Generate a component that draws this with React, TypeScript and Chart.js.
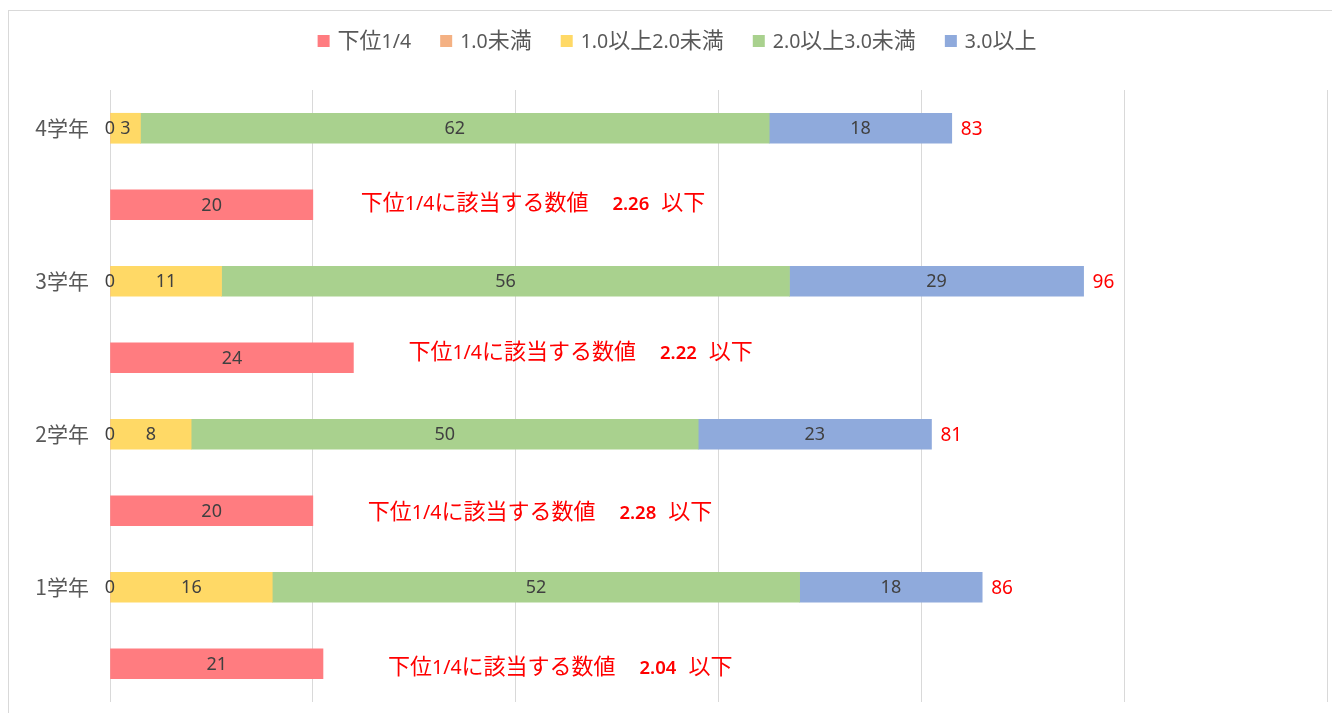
import React, { useEffect, useRef } from 'react';
import { Chart, registerables } from 'chart.js';

Chart.register(...registerables);

// ---- data ----
const categories = ['4学年', '', '3学年', '', '2学年', '', '1学年', ''];
const seriesNames = ['下位1/4', '1.0未満', '1.0以上2.0未満', '2.0以上3.0未満', '3.0以上'];
const lowerQuarter = [null, 20, null, 24, null, 20, null, 21];
const under1 = [0, null, 0, null, 0, null, 0, null];
const from1to2 = [3, null, 11, null, 8, null, 16, null];
const from2to3 = [62, null, 56, null, 50, null, 52, null];
const over3 = [18, null, 29, null, 23, null, 18, null];
const thresholds = ['2.26', '2.22', '2.28', '2.04'];
const xMin = 0;
const xMax = 120;
const xStep = 20;

// ---- styles ----
const COLORS = ['#FF7C80', '#F4B183', '#FFD966', '#A9D18E', '#8FAADC'];
const ANN_DX = [48, 55, 55, 65];
const ANN_DY = [-3, -7, 0, 2];
const CJK = "'Noto Sans CJK JP'";
const LAT = "'Noto Sans', 'Noto Sans CJK JP'";

const isCJK = (c: string) => /[\u3040-\u30ff\u3400-\u9fff\uff00-\uffef]/.test(c);

function runs(text: string) {
  const out: { t: string; cjk: boolean }[] = [];
  for (const ch of text) {
    const c = isCJK(ch);
    if (out.length && out[out.length - 1].cjk === c) out[out.length - 1].t += ch;
    else out.push({ t: ch, cjk: c });
  }
  return out;
}

function measureMixed(ctx: CanvasRenderingContext2D, text: string, cjkFont: string, latFont: string) {
  let w = 0;
  for (const r of runs(text)) {
    ctx.font = r.cjk ? cjkFont : latFont;
    w += ctx.measureText(r.t).width;
  }
  return w;
}

// draws text with a shared alphabetic baseline; y is the visual centre line
function drawMixed(ctx: CanvasRenderingContext2D, text: string, x: number, y: number, cjkFont: string, latFont: string, baseOff: number) {
  let cx = x;
  ctx.textAlign = 'left';
  ctx.textBaseline = 'alphabetic';
  for (const r of runs(text)) {
    ctx.font = r.cjk ? cjkFont : latFont;
    ctx.fillText(r.t, cx, y + baseOff);
    cx += ctx.measureText(r.t).width;
  }
  return cx - x;
}

const framePlugin = {
  id: 'frame',
  beforeDraw(chart: any) {
    const ctx = chart.ctx as CanvasRenderingContext2D;
    ctx.save();
    ctx.fillStyle = '#FFFFFF';
    ctx.fillRect(0, 0, chart.width, chart.height);
    ctx.strokeStyle = '#D9D9D9';
    ctx.lineWidth = 1;
    ctx.strokeRect(8.5, 10.5, 2000, 2000);
    ctx.restore();
  },
};

const labelPlugin = {
  id: 'valueLabels',
  afterDatasetsDraw(chart: any) {
    const ctx = chart.ctx as CanvasRenderingContext2D;
    const xs = chart.scales.x;
    const ys = chart.scales.y;
    ctx.save();
    // values inside bars
    ctx.font = `18px ${LAT}`;
    ctx.fillStyle = '#404040';
    ctx.textAlign = 'center';
    ctx.textBaseline = 'middle';
    chart.data.datasets.forEach((ds: any, di: number) => {
      const meta = chart.getDatasetMeta(di);
      meta.data.forEach((el: any, i: number) => {
        const v = ds.data[i];
        if (v == null) return;
        const p = el.getProps(['x', 'y', 'base'], true);
        ctx.fillText(String(v), (p.x + p.base) / 2, p.y + 1);
      });
    });
    // totals and annotations
    let k = 0;
    categories.forEach((_, i) => {
      const y = ys.getPixelForValue(i);
      if (i % 2 === 0) {
        const total = [under1, from1to2, from2to3, over3].reduce((s, a) => s + (a[i] || 0), 0);
        ctx.font = `19px ${LAT}`;
        ctx.fillStyle = '#FF0000';
        ctx.textAlign = 'left';
        ctx.textBaseline = 'middle';
        ctx.fillText(String(total), xs.getPixelForValue(total) + 9, y + 1);
      } else {
        ctx.fillStyle = '#FF0000';
        let x = xs.getPixelForValue(lowerQuarter[i] as number) + ANN_DX[k];
        const yy = y + ANN_DY[k];
        const cj = `22px ${CJK}`;
        x += drawMixed(ctx, '下位1/4に該当する数値', x, yy, cj, `19.5px ${LAT}`, 8);
        x += 24;
        x += drawMixed(ctx, thresholds[k], x, yy, cj, `600 18.5px ${LAT}`, 8);
        x += 12;
        drawMixed(ctx, '以下', x, yy, cj, `19px ${LAT}`, 8);
        k++;
      }
    });
    ctx.restore();
  },
};

const legendPlugin = {
  id: 'customLegend',
  afterDraw(chart: any) {
    const ctx = chart.ctx as CanvasRenderingContext2D;
    const cjkF = `22px ${CJK}`;
    const latF = `19.5px ${LAT}`;
    const box = 12;
    const boxGap = 8;
    const itemGap = 29;
    const items = chart.data.datasets.map((ds: any) => ({
      label: ds.label as string,
      color: ds.backgroundColor as string,
      w: measureMixed(ctx, ds.label, cjkF, latF),
    }));
    const total = items.reduce((s: number, it: any) => s + box + boxGap + it.w, 0) + itemGap * (items.length - 1);
    let x = 677 - total / 2;
    const y = 40;
    ctx.save();
    items.forEach((it: any) => {
      ctx.fillStyle = it.color;
      ctx.fillRect(x, y - box / 2 + 1, box, box);
      x += box + boxGap;
      ctx.fillStyle = '#595959';
      x += drawMixed(ctx, it.label, x, y, cjkF, latF, 8);
      x += itemGap;
    });
    ctx.restore();
  },
};

export default function App() {
  const ref = useRef<HTMLCanvasElement | null>(null);
  useEffect(() => {
    if (!ref.current) return;
    const seriesData = [lowerQuarter, under1, from1to2, from2to3, over3];
    const chart = new Chart(ref.current, {
      type: 'bar',
      data: {
        labels: categories,
        datasets: seriesNames.map((name, i) => ({
          label: name,
          data: seriesData[i] as any,
          backgroundColor: COLORS[i],
          borderWidth: 0,
          barThickness: 30,
        })),
      },
      options: {
        indexAxis: 'y',
        responsive: false,
        animation: false,
        devicePixelRatio: 1,
        layout: { padding: { top: 90, bottom: 11, left: 0, right: 5 } },
        plugins: {
          legend: { display: false },
          tooltip: { enabled: false },
        },
        scales: {
          x: {
            type: 'linear',
            stacked: true,
            min: xMin,
            max: xMax,
            ticks: { display: false, stepSize: xStep },
            grid: { color: '#D9D9D9', lineWidth: 1, drawTicks: false },
            border: { display: false },
            afterFit: (s: any) => { s.height = 0; },
          },
          y: {
            type: 'category',
            stacked: true,
            grid: { display: false, drawTicks: true, tickLength: 21 },
            border: { display: false },
            ticks: {
              color: '#595959',
              font: { family: CJK, size: 21, lineHeight: 1 },
              padding: 0,
              autoSkip: false,
            },
            afterFit: (s: any) => { s.width = 110; },
          },
        },
      },
      plugins: [framePlugin, labelPlugin, legendPlugin],
    });
    return () => chart.destroy();
  }, []);
  return (
    <div style={{ position: 'fixed', left: 0, top: 0, width: 1332, height: 713, background: '#fff' }}>
      <canvas ref={ref} width={1332} height={713} style={{ width: 1332, height: 713, display: 'block' }} />
    </div>
  );
}
